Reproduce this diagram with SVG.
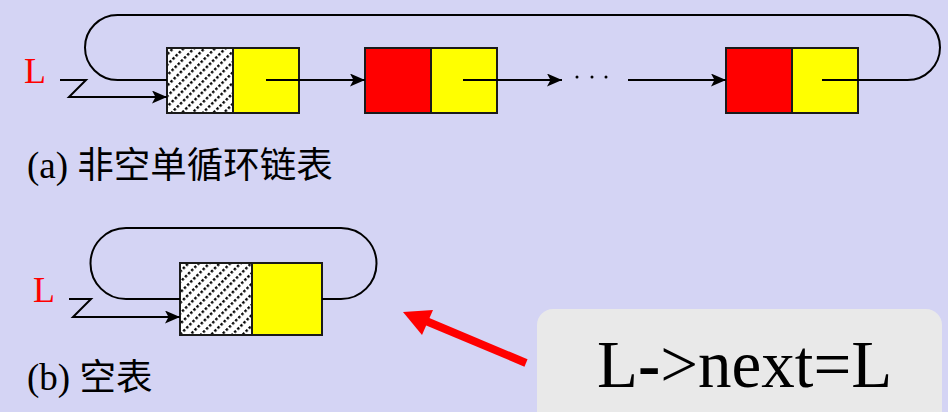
<svg xmlns="http://www.w3.org/2000/svg" width="948" height="412" viewBox="0 0 948 412">
<style>
.box{stroke:#1a1a1a;stroke-width:2}
.hatch{fill:url(#hp)}
.red{fill:#ff0000}
.yel{fill:#ffff00}
.ln{fill:none;stroke:#000;stroke-width:2}
.lbl{font-family:"Liberation Serif",serif;font-size:36px;fill:#ff0000}
.cap{font-family:"Liberation Serif",serif;font-size:37px;fill:#000}
.cjk{font-family:"Noto Sans CJK SC",sans-serif;font-size:36.5px}
.note{font-family:"Liberation Serif",serif;font-size:67px;fill:#000}
</style>
<defs>
<pattern id="hp" width="7.4" height="4.4" patternUnits="userSpaceOnUse" patternTransform="rotate(45)">
<rect width="7.4" height="4.4" fill="#fff"/>
<rect x="0" y="1" width="2.4" height="2.4" fill="#000"/>
</pattern>
<marker id="ah" viewBox="0 0 15 13" refX="15" refY="6.5" markerWidth="15" markerHeight="13" markerUnits="userSpaceOnUse" orient="auto">
<path d="M0,0 L15,6.5 L0,13 L3.5,6.5 Z" fill="#000"/>
</marker>
</defs>
<rect width="948" height="412" fill="#d4d4f4"/>

<g id="node-a-head">
<rect class="box hatch" x="167" y="48" width="66" height="65"/>
<rect class="box yel" x="233" y="48" width="66" height="65"/>
</g>
<g id="node-a-1">
<rect class="box red" x="365" y="48" width="66" height="65"/>
<rect class="box yel" x="431" y="48" width="66" height="65"/>
</g>
<g id="node-a-n">
<rect class="box red" x="726" y="48" width="66" height="65"/>
<rect class="box yel" x="792" y="48" width="66" height="65"/>
</g>
<g id="dots-a">
<circle cx="577" cy="77" r="1.5" fill="#000"/>
<circle cx="592" cy="77" r="1.5" fill="#000"/>
<circle cx="606" cy="77" r="1.5" fill="#000"/>
</g>
<g id="label-a">
<text class="lbl" x="24" y="83">L</text>
</g>

<g id="node-b-head">
<rect class="box hatch" x="180" y="263" width="72" height="72"/>
<rect class="box yel" x="252" y="263" width="70" height="72"/>
</g>
<g id="label-b">
<text class="lbl" x="33" y="302">L</text>
</g>

<g id="connectors">
<path class="ln" d="M266 80 H365" marker-end="url(#ah)"/>
<path class="ln" d="M463 80 H562" marker-end="url(#ah)"/>
<path class="ln" d="M628 80 H726" marker-end="url(#ah)"/>
<path class="ln" d="M822 80 H907.5 A32.5 32.5 0 0 0 907.5 15 H117.5 A32.5 32.5 0 0 0 117.5 80 H167"/>
<path class="ln" d="M60 80 H86 L69 97 H167" marker-end="url(#ah)"/>
<path class="ln" d="M322 299 H341 A35.5 35.5 0 0 0 341 228 H126 A35.5 35.5 0 0 0 126 299 H180"/>
<path class="ln" d="M69 299 H91 L73 317 H180" marker-end="url(#ah)"/>
<path d="M526 363 L426 321" stroke="#ff0000" stroke-width="8" fill="none"/>
<path d="M403 312 L433 310 L422 335 Z" fill="#ff0000"/>
</g>

<g id="caption-a">
<text class="cap" x="27" y="178">(a) <tspan class="cjk">非空单循环链表</tspan></text>
</g>
<g id="caption-b">
<text class="cap" x="27" y="390">(b) <tspan class="cjk">空表</tspan></text>
</g>

<g id="note">
<rect x="537" y="309" width="405" height="120" rx="16" fill="#e9e9e9"/>
<text class="note" x="597" y="387">L<tspan font-weight="bold">-</tspan>&gt;next=L</text>
</g>
</svg>
